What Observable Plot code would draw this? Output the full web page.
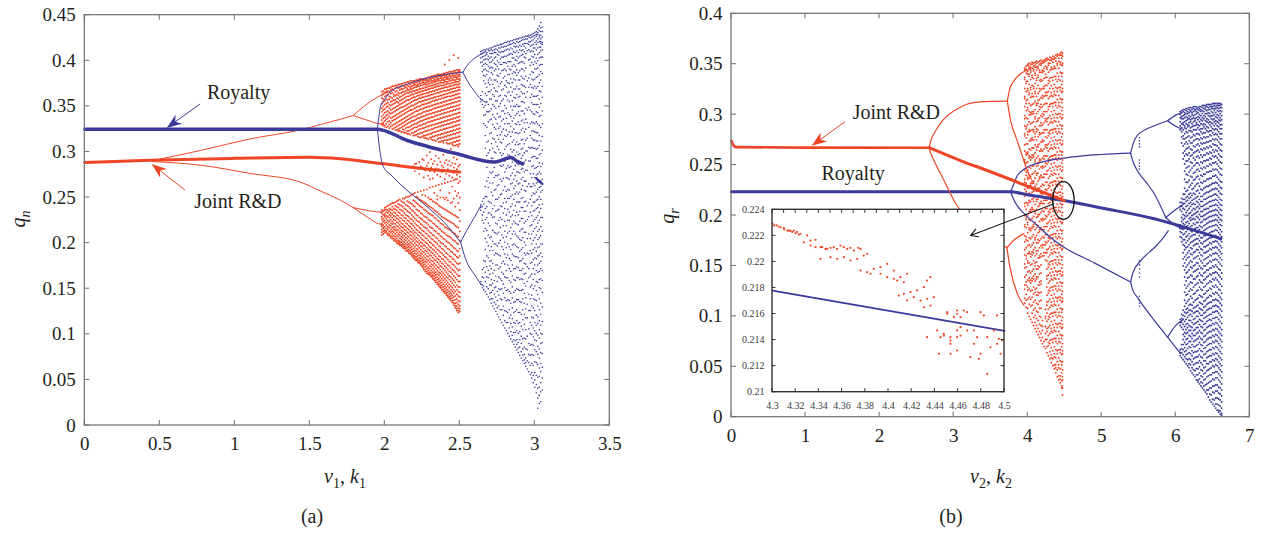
<!DOCTYPE html>
<html><head><meta charset="utf-8">
<script src="https://cdn.jsdelivr.net/npm/d3@7"></script>
<script src="https://cdn.jsdelivr.net/npm/@observablehq/plot@0.6"></script>
<style>
body{margin:0;background:#fff;width:1261px;height:533px;overflow:hidden;position:relative;font-family:"Liberation Serif","DejaVu Serif",serif;color:#231f20}
.lbl{position:absolute;font-size:20px;white-space:nowrap;line-height:1;transform:translate(-50%,-50%)}
.sub{font-size:0.7em;position:relative;top:0.35em}
#a,#b{position:absolute;top:0}
svg text{font-family:"Liberation Serif","DejaVu Serif",serif}
</style></head><body>
<div id="a" style="left:0;width:640px"></div>
<div id="b" style="left:640px;width:621px"></div>
<div class="lbl" style="left:18px;top:219px;transform:translate(-50%,-50%) rotate(-90deg)"><i>q</i><span class="sub"><i>n</i></span></div>
<div class="lbl" style="left:345px;top:476px"><i>ν</i><span class="sub">1</span>, <i>k</i><span class="sub">1</span></div>
<div class="lbl" style="left:312px;top:516px">(a)</div>
<div class="lbl" style="left:667px;top:216px;transform:translate(-50%,-50%) rotate(-90deg)"><i>q</i><span class="sub"><i>r</i></span></div>
<div class="lbl" style="left:991px;top:476px"><i>ν</i><span class="sub">2</span>, <i>k</i><span class="sub">2</span></div>
<div class="lbl" style="left:951px;top:516px">(b)</div>
<script>
// ======================= DATA =======================
// ---- panel (a) ----
const xTicksA = [0, 0.5, 1, 1.5, 2, 2.5, 3, 3.5];
const yTicksA = [0, 0.05, 0.1, 0.15, 0.2, 0.25, 0.3, 0.35, 0.4, 0.45];
const redMainA = [[0,0.2885],[0.2,0.2895],[0.5,0.2912],[1.0,0.293],[1.5,0.2942],[1.705,0.2925],[1.99,0.287],[2.26,0.2815],[2.5,0.278]];
const redP2UpA = [[0.45,0.2905],[0.77,0.3016],[1.105,0.3144],[1.439,0.3243],[1.571,0.330],[1.705,0.336],[1.79,0.340]];
const redP2LoA = [[0.45,0.2895],[0.77,0.2855],[1.105,0.2764],[1.439,0.2668],[1.571,0.2572],[1.705,0.247],[1.79,0.239]];
const redP4A = [
  [[1.79,0.340],[1.86,0.350],[1.95,0.360],[2.04,0.367]],
  [[1.79,0.340],[1.88,0.335],[1.97,0.331],[2.0,0.334]],
  [[1.97,0.331],[2.0,0.327]],
  [[1.79,0.239],[1.88,0.236],[1.97,0.234],[2.0,0.238]],
  [[1.97,0.234],[2.0,0.230]],
  [[1.79,0.239],[1.88,0.229],[1.97,0.221],[2.0,0.225]],
  [[1.97,0.221],[2.0,0.214]]
];
const blueMainA = [[0,0.325],[1.95,0.325],[2.15,0.3126],[2.48,0.298],[2.73,0.289],[2.79,0.2915],[2.84,0.294],[2.88,0.290],[2.92,0.287]];
const blueBlobA = [[3.01,0.271],[3.05,0.265]];
const blueBranchesA = [
  [[1.95,0.325],[1.96,0.338],[1.97,0.349],[2.0,0.358],[2.04,0.366],[2.15,0.3745],[2.26,0.380],[2.4,0.385],[2.52,0.3875]],
  [[2.52,0.3875],[2.56,0.397],[2.6,0.403],[2.66,0.409]],
  [[2.52,0.3875],[2.55,0.378],[2.6,0.366],[2.64,0.358],[2.68,0.354]],
  [[1.95,0.325],[1.96,0.311],[1.97,0.298],[1.99,0.284],[2.04,0.275],[2.12,0.262],[2.26,0.243],[2.4,0.222],[2.505,0.201]],
  [[2.505,0.201],[2.55,0.215],[2.6,0.229],[2.64,0.241]],
  [[2.505,0.201],[2.54,0.182],[2.6,0.165],[2.64,0.155]]
];
// chaotic scatter, read column by column: [x, "q values in thousandths"]
const redChaosA = [
[1.98,"366 362 359 353 348 344 339 335 331 209 212 215 219 221 226 229 233 236"],
[1.99,"367 364 358 355 350 346 341 337 332 330 210 213 217 220 224 227 231 235"],
[2.00,"369 365 361 356 352 347 343 338 334 329 212 214 218 222 225 229 232 236 239"],
[2.01,"369 366 362 358 353 349 344 340 336 331 327 211 213 216 220 223 227 230 234 237 240"],
[2.02,"370 367 363 357 354 350 345 341 337 333 328 209 211 215 218 222 225 229 233 236 241"],
[2.03,"370 366 361 358 352 348 343 339 334 330 326 208 210 213 217 220 224 228 231 235 238 242"],
[2.04,"371 368 364 360 355 351 346 342 337 332 328 206 208 212 215 219 222 226 230 233 237 243"],
[2.05,"372 369 365 359 356 352 347 343 338 334 329 325 205 207 210 213 217 221 224 228 232 236 240 244"],
[2.06,"372 368 363 361 357 353 348 344 339 335 330 326 203 205 208 212 215 218 222 226 230 234 238 244"],
[2.07,"373 370 366 362 357 354 349 345 340 336 331 327 324 202 204 207 210 214 217 221 225 229 233 237 241 245"],
[2.08,"373 371 367 363 359 355 350 346 341 337 332 328 324 200 202 205 208 212 215 219 223 227 231 236 240 246"],
[2.09,"374 370 365 362 358 354 351 347 342 338 333 329 325 323 199 201 203 207 210 214 218 222 226 230 234 239 243 247"],
[2.10,"374 371 368 364 360 356 352 348 343 339 334 330 326 323 198 200 202 205 209 212 216 220 224 228 233 237 242 248"],
[2.11,"375 372 369 365 361 357 353 349 344 340 335 331 327 322 197 198 201 204 207 211 214 218 222 227 231 236 241 246"],
[2.12,"375 373 369 366 362 358 354 349 345 341 336 332 328 325 322 195 197 199 202 206 209 213 217 221 225 230 235 240 245 249"],
[2.13,"376 372 370 366 363 359 355 350 346 342 337 333 329 324 321 194 196 198 201 204 208 211 215 219 224 228 233 238 244 249"],
[2.14,"376 374 371 367 364 360 356 351 347 343 338 334 330 326 321 192 194 196 199 203 206 210 214 218 222 227 231 237 242 250"],
[2.15,"377 373 370 368 365 361 357 352 348 344 339 335 331 327 323 320 191 192 195 198 201 205 208 212 216 221 225 230 235 241 246 251"],
[2.16,"377 375 372 368 365 361 357 353 349 345 340 336 332 327 323 320 189 191 193 196 199 203 207 211 215 219 224 229 234 240 245 251"],
[2.17,"378 374 371 369 366 362 358 354 350 346 341 337 333 328 324 319 188 189 192 195 198 201 205 209 213 218 222 227 233 238 244 252"],
[2.18,"378 376 372 369 366 363 359 355 351 346 342 338 334 329 325 321 186 188 190 193 196 200 204 208 212 216 221 226 231 236 243 253"],
[2.19,"378 375 373 370 367 363 360 356 351 347 343 339 334 330 326 321 318 184 186 188 191 194 198 202 206 210 214 219 224 229 235 241 247 254 284"],
[2.20,"378 376 374 371 367 364 360 357 352 348 344 339 335 331 327 322 318 182 184 186 189 192 196 200 204 208 212 217 222 227 233 240 246 255 279 287"],
[2.21,"379 376 373 371 368 365 361 357 353 349 345 340 336 331 327 323 319 181 182 185 188 191 194 198 202 206 211 215 220 225 231 237 244 251 287"],
[2.22,"379 377 374 372 368 365 362 358 354 350 345 341 337 332 328 324 320 317 179 181 183 186 189 193 197 201 205 209 214 219 224 230 236 243 250 256 282"],
[2.23,"380 377 375 372 369 366 362 359 355 350 346 342 337 333 329 325 320 316 178 179 181 184 187 191 195 199 203 208 212 217 223 228 235 241 248 276 289"],
[2.24,"380 378 375 373 369 366 363 359 355 351 347 342 338 334 329 325 321 316 176 177 180 183 186 189 193 197 201 206 211 216 221 227 233 240 247 257 284"],
[2.25,"380 378 376 373 370 367 363 360 356 352 347 343 339 334 330 326 321 317 174 175 178 181 184 188 191 196 200 204 209 214 220 226 232 239 246 253 283 292"],
[2.26,"380 378 376 374 370 367 364 360 356 352 348 344 339 335 331 326 322 318 316 171 173 176 179 182 186 190 194 198 203 208 213 218 224 230 237 245 258 272 291"],
[2.27,"381 379 376 374 371 368 364 361 357 353 349 344 340 336 331 327 323 318 315 169 171 174 177 180 184 188 192 197 201 206 211 217 223 229 236 244 252 280"],
[2.28,"381 379 377 374 371 368 365 361 357 353 349 345 341 336 332 328 323 319 315 167 169 172 175 179 182 186 191 195 200 205 210 216 222 228 235 243 259 285 296"],
[2.29,"382 379 377 375 372 369 365 362 358 354 350 345 341 337 333 328 324 319 314 166 167 170 173 177 181 185 189 193 198 203 208 214 220 226 233 241 250 274 288"],
[2.30,"382 380 378 375 372 369 366 362 358 354 350 346 342 337 333 329 324 320 316 165 166 168 172 175 179 183 187 192 196 201 207 212 218 225 232 240 248 261 279 300 270"],
[2.31,"383 380 378 376 373 370 366 363 359 355 351 346 342 338 334 329 325 320 316 314 163 164 167 170 174 177 181 186 190 195 200 205 211 217 224 231 239 248 283 292"],
[2.32,"383 381 378 376 373 370 367 363 359 356 351 347 343 338 334 330 325 321 317 313 161 163 165 168 172 176 180 184 189 193 198 204 209 216 222 230 238 246 262 271 287 305"],
[2.33,"384 381 379 377 374 371 367 364 360 356 352 348 343 339 335 330 326 322 317 313 159 161 164 167 170 174 178 182 187 192 197 202 208 214 221 228 236 245 255 278 290"],
[2.34,"384 382 379 377 374 371 368 364 360 357 352 348 344 340 335 331 327 322 318 312 157 159 162 165 168 172 176 181 185 190 195 201 206 213 219 227 235 244 263 282 296"],
[2.35,"385 382 380 378 375 372 368 365 361 357 353 349 344 340 336 331 327 323 318 314 155 157 160 163 166 170 174 179 183 188 193 199 205 211 218 225 234 243 252 275 286 248"],
[2.36,"385 383 380 378 375 372 369 365 361 358 353 349 345 341 336 332 328 323 319 315 311 153 155 158 161 165 168 173 177 182 186 192 197 203 210 216 224 232 241 264 281 293"],
[2.37,"385 383 381 378 376 373 369 366 362 358 354 350 345 341 337 332 328 324 319 315 311 151 153 156 159 163 167 171 175 180 185 190 196 201 208 215 222 231 240 250 258 273 289 302"],
[2.38,"385 383 381 379 376 373 370 366 362 359 354 350 346 342 337 333 329 324 320 316 312 149 151 154 157 161 165 169 174 178 183 189 194 200 207 213 221 229 239 265 278 285"],
[2.39,"386 384 381 379 376 373 370 367 363 359 355 351 346 342 338 333 329 325 320 316 312 310 147 149 152 155 159 163 167 172 177 182 187 193 199 205 212 220 228 238 250 283 297"],
[2.40,"386 384 382 379 377 374 371 367 363 360 355 351 347 343 338 334 330 325 321 317 313 396 145 147 150 153 157 161 165 170 175 180 185 191 197 204 211 218 227 237 248 266 270 288"],
[2.41,"387 384 382 380 377 374 371 367 364 360 356 352 347 343 339 334 330 326 321 317 313 310 143 145 148 151 155 159 163 168 173 178 184 189 196 202 209 217 226 236 250 276 291"],
[2.42,"387 385 382 380 377 375 371 368 364 361 356 352 348 344 339 335 331 326 322 318 313 309 141 143 146 149 153 157 162 166 171 176 182 188 194 201 208 216 225 235 247 267 281 286 299"],
[2.43,"388 385 383 380 378 375 372 368 365 361 357 353 348 344 340 335 331 327 322 318 314 309 401 139 141 144 147 151 155 160 164 169 175 180 186 193 200 207 215 224 234 255 274 290"],
[2.44,"388 386 383 381 378 375 372 369 365 361 357 353 349 345 340 336 332 327 323 319 314 310 137 139 142 145 149 153 158 163 168 173 179 185 191 198 206 214 223 233 244 268 279 285 303"],
[2.45,"388 386 384 381 379 376 373 369 366 362 358 354 349 345 341 336 332 328 323 319 315 310 308 135 137 140 143 147 151 156 161 166 171 177 183 190 197 204 212 222 232 245 262 272 288"],
[2.46,"389 386 384 382 379 376 373 370 366 362 358 354 350 346 341 337 333 328 324 320 315 311 307 406 132 134 137 141 145 149 154 159 164 170 176 182 188 195 203 211 221 231 249 269 277 283 294"],
[2.47,"389 387 384 382 379 377 374 370 367 363 359 355 350 346 342 337 333 329 324 320 316 311 307 129 131 134 138 142 147 152 157 162 168 174 180 187 194 202 210 219 230 240 257 270 287"],
[2.48,"390 387 385 382 380 377 374 371 367 363 359 355 351 347 342 338 334 329 325 321 316 312 308 126 128 131 135 139 144 149 154 160 166 172 178 185 192 200 208 218 229 252 270 275 281 292"],
[2.49,"390 388 385 383 380 377 374 371 368 364 360 356 351 347 343 338 334 330 325 321 317 312 308 306 403 124 126 129 133 137 142 147 152 158 164 170 177 184 191 199 207 217 228 244 266 278 284 255"],
[2.50,"390 388 385 383 380 378 375 371 368 364 360 356 352 348 343 339 335 330 326 322 317 313 309 125 128 131 136 141 146 152 158 164 171 178 186 194 203 213 224 236 250 268 273 286"]
];
const blueChaosA = [
[2.64,"410 407 403 398 362 358 355 242 239 236 158 155"],
[2.65,"411 408 404 399 394 388 366 357 352 246 240 231 225 171 163 154 151"],
[2.66,"412 409 405 401 396 390 384 378 349 340 331 249 243 234 222 213 181 173 162 153 149"],
[2.67,"412 410 406 402 397 391 383 375 364 351 341 329 318 304 262 251 238 226 216 205 193 180 168 158 147"],
[2.68,"413 409 407 402 396 389 385 371 362 355 344 327 311 296 283 268 251 240 228 214 201 186 174 163 152 144"],
[2.69,"413 411 405 401 394 388 379 376 366 352 344 333 312 299 289 272 261 246 233 222 209 197 184 170 162 150 141"],
[2.70,"414 411 408 403 398 392 381 374 366 358 345 335 320 302 289 278 266 245 233 219 206 192 180 175 166 154 145 138"],
[2.71,"414 412 408 404 399 393 387 379 368 358 347 336 321 309 293 277 256 244 231 207 196 181 172 160 154 146 139 134"],
[2.72,"415 411 408 401 392 385 374 363 352 341 330 315 304 293 278 266 252 238 228 214 202 192 178 167 156 148 139 131"],
[2.73,"416 412 409 403 397 389 379 370 361 350 338 327 314 300 283 272 258 241 229 212 199 187 170 159 151 144 135 128"],
[2.74,"416 413 409 404 396 391 379 367 356 348 336 325 311 299 289 274 259 248 235 222 211 199 189 176 164 152 141 133 125"],
[2.75,"417 412 407 400 394 384 377 366 356 342 331 318 306 290 274 263 248 236 221 210 197 188 176 158 147 137 129 122"],
[2.76,"417 414 410 406 398 391 383 372 361 350 338 326 314 303 289 275 264 250 237 225 212 200 187 172 163 150 143 131 119"],
[2.77,"418 414 409 402 396 386 375 362 353 339 328 319 311 299 285 270 253 241 228 217 203 186 174 161 149 139 127 116"],
[2.78,"418 415 410 404 396 389 377 368 356 345 334 322 310 296 284 268 254 240 226 209 196 178 168 159 150 138 127 113"],
[2.79,"419 415 410 404 398 390 381 369 358 345 336 325 314 298 286 271 258 244 233 219 206 193 180 166 155 145 131 121 110"],
[2.80,"420 416 411 405 398 391 383 373 362 351 342 331 318 303 290 278 262 249 238 224 213 201 188 177 163 151 140 126 115 107"],
[2.81,"420 416 412 405 397 389 378 371 361 348 337 324 317 306 294 282 272 257 245 231 219 207 195 184 170 162 148 137 125 113 104"],
[2.82,"421 417 413 406 399 394 385 376 365 357 343 331 319 308 297 285 271 259 249 237 225 211 199 187 176 162 149 138 124 113 101"],
[2.83,"421 418 412 407 399 391 385 375 366 355 341 331 322 309 296 283 270 258 249 234 225 213 196 183 172 159 147 137 127 118 107 98"],
[2.84,"422 418 414 408 399 390 380 371 362 350 339 328 317 303 295 284 274 265 251 240 229 217 205 193 181 169 157 145 134 121 112 103 95"],
[2.85,"422 419 413 407 403 394 386 376 366 356 346 334 322 311 300 289 277 266 253 243 231 221 210 198 188 176 164 152 140 129 117 108 99 92"],
[2.86,"423 420 416 410 403 396 388 380 369 360 350 337 325 313 302 292 281 270 260 248 236 224 213 199 186 172 160 146 135 124 113 102 94 89"],
[2.87,"423 419 415 409 401 394 387 379 369 359 350 340 331 321 308 296 285 274 263 254 241 230 222 210 198 185 172 159 148 136 125 112 102 93 86"],
[2.88,"424 421 416 411 405 400 390 384 372 363 352 342 330 321 311 300 288 278 268 256 245 234 221 208 196 185 174 162 150 138 127 115 104 94 89 83"],
[2.89,"424 420 415 409 403 397 387 379 369 360 350 344 333 320 308 297 286 278 265 254 245 231 220 206 195 184 173 162 149 138 124 112 101 91 85 80"],
[2.90,"425 421 417 412 405 398 389 379 369 361 350 340 330 321 309 298 287 277 266 256 245 235 224 213 204 191 180 170 160 148 136 124 113 103 94 86 77"],
[2.91,"425 422 416 411 406 399 391 383 374 366 355 345 334 324 313 303 293 281 270 259 249 239 227 215 203 193 181 170 161 148 135 122 109 98 90 81 74"],
[2.92,"426 423 418 412 407 399 391 381 373 364 355 345 335 326 314 304 296 282 272 263 250 239 227 216 206 195 183 172 160 149 139 127 116 105 95 84 77 71"],
[2.93,"426 423 419 416 410 404 397 389 380 372 364 354 342 332 322 309 299 289 278 268 258 245 235 222 212 201 189 178 166 156 145 134 122 111 96 86 78 72 68"],
[2.94,"427 424 419 414 408 403 392 383 371 360 348 336 325 313 301 291 280 268 257 246 235 224 212 198 187 177 167 153 140 128 118 105 95 84 74 69 65"],
[2.95,"427 424 419 411 378 366 346 332 315 301 280 262 241 226 205 189 174 158 133 118 98 83 71 62"],
[2.96,"428 426 421 418 412 401 381 371 349 327 305 290 265 244 229 210 188 172 162 144 126 106 90 78 69 59"],
[2.97,"428 425 421 416 410 402 395 385 374 360 346 331 318 304 290 276 262 248 234 219 205 192 178 164 152 139 126 113 101 88 77 66 56"],
[2.98,"429 426 422 417 411 405 398 388 380 371 363 354 344 333 323 315 305 294 284 272 262 252 241 230 220 210 199 189 179 166 154 143 131 119 110 100 89 78 68 58 52"],
[2.99,"430 427 423 418 414 410 404 396 387 379 370 361 352 342 332 323 313 304 295 285 276 265 255 245 235 224 213 203 193 182 172 160 150 139 129 118 107 97 88 77 66 55 47"],
[3.00,"431 428 425 420 414 407 399 391 380 372 361 352 341 331 322 313 304 295 282 272 263 254 245 236 226 216 206 195 184 176 166 153 138 126 113 104 94 83 70 58 50 42"],
[3.01,"432 429 427 422 418 412 403 397 391 382 370 361 352 344 333 321 312 303 293 283 275 266 256 247 238 228 218 209 199 191 183 170 158 148 137 121 110 101 93 81 69 55 45 36"],
[3.02,"435 431 429 424 420 414 407 400 392 383 372 362 352 343 331 321 312 304 293 284 276 267 259 248 239 230 222 213 204 195 186 176 168 157 144 131 119 112 99 87 78 67 53 41 30 19"],
[3.03,"438 433 428 426 421 415 409 403 395 385 376 367 358 349 339 329 318 307 297 288 278 267 261 251 242 234 225 215 206 196 187 178 169 160 151 139 127 115 105 96 84 74 63 54 42 33 24"],
[3.04,"442 436 432 428 424 421 419 415 411 404 396 388 379 366 353 340 327 312 298 284 276 268 262 256 248 238 228 218 208 199 189 180 172 161 150 134 122 110 101 90 80 68 59 47 37 26"],
[3.05,"437 432 426 420 418 412 404 396 386 372 360 345 331 317 302 287 270 258 243 228 213 199 185 170 159 146 130 114 100 91 79 64 52 39"]
];
const annotA = [{x:1.025,y:0.3646,t:"Royalty"},{x:1.021,y:0.2461,t:"Joint R&D"}];
const arrowRoyaltyA = [0.771,0.352,0.549,0.3258];
const arrowJointA = [0.671,0.2577,0.449,0.2862];

// ---- panel (b) ----
const xTicksB = [0, 1, 2, 3, 4, 5, 6, 7];
const yTicksB = [0, 0.05, 0.1, 0.15, 0.2, 0.25, 0.3, 0.35, 0.4];
const redMainB = [[0,0.274],[0.02,0.2705],[0.06,0.2678],[1,0.2673],[2.67,0.2672]];
const redThickB = [[2.67,0.2672],[3.09,0.2545],[3.455,0.2446],[4.0,0.229],[4.49,0.2148]];
const redBranchesB = [
  [[2.67,0.2672],[2.69,0.274],[2.734,0.281],[2.85,0.294],[3.09,0.3074],[3.23,0.3114],[3.5,0.3132],[3.725,0.3134]],
  [[3.725,0.3134],[3.76,0.326],[3.82,0.334],[3.905,0.3405],[4.04,0.3455]],
  [[3.725,0.3134],[3.77,0.294],[3.84,0.278],[3.905,0.264],[3.995,0.2446],[4.05,0.236]],
  [[2.67,0.2672],[2.69,0.262],[2.734,0.2545],[2.87,0.2347],[3.03,0.2116],[3.35,0.188],[3.72,0.168]],
  [[3.72,0.168],[3.76,0.149],[3.86,0.1225],[3.95,0.111]],
  [[3.72,0.168],[3.82,0.176],[3.95,0.182]]
];
const blueMainB = [[0,0.2235],[3.77,0.2235],[4.0,0.2205],[4.49,0.2149],[5.0,0.2075],[5.71,0.1967],[6.2,0.1865],[6.61,0.177]];
const blueBranchesB = [
  [[3.77,0.2235],[3.8,0.229],[3.86,0.2397],[3.95,0.2458],[4.04,0.2496],[4.58,0.2578],[5.0,0.2605],[5.39,0.2618]],
  [[3.77,0.2235],[3.8,0.2175],[3.86,0.2095],[3.905,0.2055],[4.1,0.192],[4.355,0.1755],[4.49,0.1686],[4.9,0.153],[5.39,0.134]],
  [[5.39,0.2618],[5.42,0.27],[5.48,0.2793],[5.71,0.289],[5.89,0.294]],
  [[5.39,0.2618],[5.42,0.254],[5.48,0.2446],[5.6,0.233],[5.71,0.2215],[5.865,0.198]],
  [[5.39,0.134],[5.42,0.143],[5.53,0.1554],[5.71,0.168],[5.80,0.175],[5.9,0.185]],
  [[5.39,0.134],[5.42,0.126],[5.48,0.119],[5.71,0.0959],[5.89,0.0793]],
  [[5.89,0.294],[6.0,0.2995],[6.08,0.302]],
  [[5.89,0.294],[6.0,0.2885],[6.08,0.286]],
  [[5.865,0.198],[6.0,0.206],[6.1,0.211]],
  [[5.865,0.198],[6.0,0.19],[6.1,0.186]],
  [[5.89,0.0793],[6.0,0.091],[6.1,0.097]],
  [[5.89,0.0793],[6.0,0.069],[6.07,0.063]]
];
const blueDashesB = [[5.51,0.246],[5.51,0.249],[5.51,0.252],[5.51,0.255],[5.51,0.268],[5.51,0.271],[5.51,0.274],[5.51,0.277],
  [5.51,0.110],[5.51,0.113],[5.51,0.116],[5.51,0.120],[5.51,0.139],[5.51,0.143],[5.51,0.147],[5.51,0.151],[5.51,0.155]];
const redChaosB = [
[3.96,"346 344 337 335 326 318 316 308 299 296 289 281 279 270 264 255 253 245 236 233 226 219 212 209 200 191 189 180 174 166 161 152 148 139 131 127 118 113"],
[3.98,"348 345 341 333 331 323 314 311 304 297 288 286 277 271 262 260 252 243 240 232 224 222 213 206 198 196 188 179 176 168 160 157 149 141 134 131 122 116 109"],
[4.00,"350 349 343 340 333 326 324 315 307 305 296 290 283 280 271 263 261 253 245 238 236 227 220 212 210 201 193 191 183 175 170 162 155 153 144 136 129 126 117 108 103"],
[4.02,"351 348 346 340 338 330 322 320 311 303 300 293 285 283 274 266 259 257 248 240 237 229 222 215 213 204 196 188 186 178 171 164 162 153 145 138 135 127 119 112 100"],
[4.04,"350 347 344 342 335 327 325 317 309 302 300 291 284 276 274 265 258 255 247 239 232 230 221 214 206 204 195 187 185 177 169 162 159 151 143 136 133 125 117 110 97"],
[4.06,"352 350 346 339 337 329 321 318 310 303 301 292 285 277 275 267 260 257 249 241 234 232 223 216 208 206 197 189 187 179 171 164 161 152 145 138 135 126 119 111 103 94"],
[4.08,"351 348 345 343 336 328 326 318 311 303 301 293 285 283 275 267 260 258 249 242 234 232 224 217 214 206 199 191 189 181 173 166 163 155 147 140 137 129 122 114 106 99 91"],
[4.10,"352 349 347 341 339 331 323 321 313 305 298 296 288 281 278 270 262 255 253 244 237 229 227 219 211 204 202 193 186 178 176 168 160 153 150 142 135 127 124 116 108 101 94 88"],
[4.12,"353 351 347 344 336 334 326 318 311 309 301 293 286 283 275 268 265 257 249 242 240 231 224 216 214 206 198 191 188 180 173 165 162 154 147 139 137 128 121 113 105 98 91 85"],
[4.14,"352 348 346 339 337 329 321 314 311 303 296 294 285 278 270 268 259 252 250 242 234 227 225 216 209 201 199 190 183 176 173 165 158 150 147 139 131 124 121 112 104 96 88 82"],
[4.16,"353 350 344 342 334 326 323 315 308 305 297 289 282 280 271 264 256 254 246 238 236 227 220 212 210 201 194 186 184 175 168 160 158 149 142 134 131 123 115 108 100 92 85 79"],
[4.18,"354 351 349 342 335 333 325 317 310 307 299 292 289 281 273 266 264 255 248 240 238 229 222 214 212 203 196 188 186 177 170 162 159 151 143 135 132 124 116 108 99 91 83 76"],
[4.20,"353 351 344 342 334 326 319 316 308 301 298 290 282 275 273 264 257 249 247 238 231 223 221 212 205 197 195 186 179 171 168 160 96 90 86 79 73"],
[4.22,"354 352 346 343 336 328 326 318 310 303 300 292 285 282 274 266 259 256 248 241 238 230 222 215 212 204 196 189 186 178 171 163 160 75 70"],
[4.24,"355 353 348 340 337 329 322 319 311 303 296 294 285 278 270 268 259 252 249 241 233 226 223 215 207 200 197 189 181 174 171 163 156 107 100 98 90 83 77 68"],
[4.26,"356 354 347 345 337 329 322 319 311 303 296 293 285 277 270 267 259 251 244 241 233 225 218 215 207 199 192 189 181 173 166 163 155 147 140 137 129 121 114 111 103 95 88 85 77 70 64"],
[4.28,"355 351 349 342 334 331 323 316 308 305 297 290 282 279 271 264 256 253 245 237 230 227 219 212 204 201 193 185 178 175 167 159 152 149 141 133 126 123 115 107 100 97 89 81 74 71 61"],
[4.30,"357 354 351 344 336 333 326 318 310 308 299 292 284 281 273 266 258 255 247 239 232 229 221 213 206 203 195 187 180 177 169 161 154 151 143 135 128 125 117 109 102 99 91 83 76 73 65 58"],
[4.32,"356 354 347 345 337 329 322 319 311 303 296 293 285 277 270 267 259 251 244 241 233 225 218 215 207 199 192 189 181 173 166 163 155 147 140 137 129 121 114 111 103 95 88 85 77 69 62 59 54"],
[4.34,"358 355 352 345 337 334 326 318 311 308 300 292 285 282 274 266 259 256 248 240 233 230 222 214 207 204 196 188 181 178 170 162 155 152 144 136 129 126 118 110 103 100 92 84 77 74 66 58 51"],
[4.36,"357 355 348 346 338 330 323 320 312 304 297 294 286 278 271 268 260 252 245 242 234 226 219 216 208 200 193 190 182 174 167 164 156 148 141 138 130 122 115 112 104 96 89 86 78 70 63 60 52 48"],
[4.38,"359 356 353 346 338 335 327 319 312 309 301 293 286 283 275 267 260 257 249 241 234 231 223 215 208 205 197 189 182 179 171 163 156 153 145 137 130 127 119 111 104 101 93 85 78 75 67 59 52 49 44"],
[4.40,"360 358 351 349 341 333 326 323 315 307 300 297 289 281 274 271 263 255 248 245 237 229 222 219 211 203 196 193 185 177 170 167 159 151 144 141 133 125 118 115 107 99 92 89 81 73 66 63 55 47 40"],
[4.42,"359 356 353 346 338 335 327 319 312 309 301 293 286 283 275 267 260 257 249 241 234 231 223 215 208 205 197 189 182 179 171 163 156 153 145 137 130 127 119 111 104 101 93 85 78 75 67 59 52 49 41 37"],
[4.44,"361 359 352 350 342 334 327 324 316 308 301 298 290 282 275 272 264 256 249 246 238 230 223 220 212 204 197 194 186 178 171 168 160 152 145 142 134 126 119 116 108 100 93 90 82 74 67 64 56 48 41 38 34"],
[4.46,"362 359 356 349 341 338 330 322 315 312 304 296 289 286 278 270 263 260 252 244 237 234 226 218 211 208 200 192 185 182 174 166 159 156 148 140 133 130 122 114 107 104 96 88 81 78 70 62 55 52 44 36 31 29"],
[4.47,"361 358 351 349 341 333 326 323 315 307 300 297 289 281 274 271 263 255 248 245 237 229 222 219 211 203 196 193 185 177 170 167 159 151 144 141 133 125 118 115 107 99 92 89 81 73 66 63 55 47 40 37 29 22"]
];
const blueChaosB = [
[6.06,"303 300 297 293 289 285 213 209 206 191 187 184 179 97 94 91 67 64 61"],
[6.08,"304 302 298 296 291 287 283 278 272 217 213 209 204 198 194 188 183 178 174 102 98 94 89 72 68 64 59"],
[6.10,"305 303 299 296 292 290 285 279 276 269 262 256 221 216 212 207 201 196 192 187 181 176 171 163 157 150 106 101 97 92 87 82 77 72 67 62 57"],
[6.12,"305 302 300 297 293 289 287 281 276 271 264 259 251 244 236 227 221 216 212 206 200 197 191 187 182 176 170 166 159 153 146 139 131 124 116 110 104 100 95 90 84 80 74 69 65 60 55"],
[6.14,"306 304 301 298 294 291 286 283 277 273 266 261 254 247 241 233 224 218 214 209 203 199 193 189 184 179 173 168 161 156 149 143 135 128 121 113 107 103 97 92 87 83 77 72 66 62 58 53"],
[6.16,"306 303 301 297 295 290 288 282 278 271 267 260 254 248 240 233 225 219 215 210 205 200 194 190 186 180 175 169 163 158 151 144 138 130 122 115 108 104 99 93 89 84 78 73 68 63 57 51"],
[6.18,"307 305 302 299 296 292 289 284 279 274 268 262 256 249 243 235 228 221 217 212 207 202 197 192 187 182 177 171 165 159 153 146 139 132 125 117 111 106 101 96 91 86 81 75 70 64 58 53 49"],
[6.20,"307 304 303 298 295 293 287 284 277 272 266 259 253 245 239 230 222 218 213 209 203 198 195 189 185 179 173 168 162 155 149 141 134 127 120 112 106 102 96 90 86 80 75 69 63 57 52 46"],
[6.22,"307 305 302 300 296 291 288 283 278 272 265 260 252 247 238 232 226 220 215 211 205 200 196 190 184 180 174 167 161 154 148 140 133 126 118 111 105 100 94 89 83 78 72 66 61 55 49 44"],
[6.24,"308 306 303 299 297 293 289 285 280 274 269 262 257 249 242 235 227 222 216 212 207 201 197 192 186 181 175 170 163 157 150 144 137 129 122 114 108 103 97 92 86 81 75 70 64 58 52 47 42"],
[6.26,"308 305 304 300 296 294 289 285 279 275 268 263 255 250 243 236 229 221 217 211 206 202 196 191 187 181 176 171 164 158 151 145 137 131 123 116 109 104 98 93 87 81 76 70 65 59 53 46 40"],
[6.28,"308 306 303 301 297 292 290 285 281 276 270 264 258 252 245 238 231 224 218 214 208 203 199 193 188 183 177 172 166 159 153 146 139 132 125 117 110 105 100 94 89 83 77 71 65 60 54 48 42 37"],
[6.30,"307 305 302 298 295 290 287 281 276 271 265 259 252 246 239 232 225 219 213 209 204 198 193 188 183 177 172 166 160 153 147 140 133 126 118 111 105 100 95 89 84 78 72 66 60 54 48 42 37 35"],
[6.32,"308 306 304 300 297 293 289 285 280 275 269 263 257 250 244 236 229 222 216 211 207 201 196 190 186 180 175 169 163 157 150 143 136 129 121 114 108 103 97 92 86 80 74 68 62 56 50 44 38 33"],
[6.34,"308 305 303 299 295 291 286 283 277 272 266 260 253 247 240 233 226 219 214 209 204 199 193 189 183 178 173 167 161 155 148 141 134 127 120 113 107 101 96 90 84 78 72 66 60 54 47 41 35 31"],
[6.36,"309 307 304 301 297 294 290 286 281 276 271 265 258 252 246 239 232 225 219 214 209 204 199 194 188 183 178 172 166 160 153 147 140 133 126 119 112 106 101 95 89 83 77 71 65 59 52 46 40 34 29"],
[6.38,"309 306 303 299 296 291 288 282 278 272 267 260 254 248 241 234 227 221 216 210 206 200 196 190 185 180 174 169 163 156 150 143 136 129 122 115 109 103 98 92 86 80 74 68 62 56 49 43 37 31 27"],
[6.40,"309 307 305 301 298 294 290 286 282 277 272 266 260 254 247 241 234 228 222 216 211 206 201 196 191 186 180 175 169 163 157 150 144 137 130 123 116 110 104 99 93 87 81 75 69 63 56 50 44 38 32 25"],
[6.42,"310 308 304 301 296 293 288 284 278 273 268 262 255 249 243 236 229 223 217 212 207 202 197 192 187 181 176 170 164 158 152 146 139 132 125 118 112 106 100 95 89 83 77 71 65 59 53 46 40 33 27 23"],
[6.44,"310 307 305 302 299 295 292 287 283 278 273 267 261 255 249 243 236 229 223 218 213 207 203 198 193 188 182 177 171 165 159 153 146 140 133 126 119 113 107 101 96 90 84 78 72 66 60 53 47 41 34 27 20"],
[6.46,"310 308 305 301 298 293 290 284 280 274 269 263 257 251 244 237 230 224 219 214 209 204 199 194 189 183 178 173 167 161 155 148 142 135 128 121 114 108 102 97 91 85 79 73 67 61 55 48 42 35 29 23 17"],
[6.48,"310 308 306 303 299 296 292 288 284 279 274 268 262 256 250 244 237 231 225 219 214 209 204 199 194 189 184 178 172 166 160 154 148 141 134 127 120 114 108 102 96 91 85 79 73 67 61 55 49 42 36 29 22 15"],
[6.50,"311 308 306 302 299 295 291 286 282 276 271 265 259 252 246 239 232 226 220 215 210 205 200 195 190 184 179 174 168 162 156 150 143 137 130 123 116 110 104 98 93 87 81 75 69 63 57 51 44 38 31 25 18 13"],
[6.52,"311 309 306 304 300 296 293 289 285 280 275 270 263 258 252 245 239 232 226 221 215 210 205 200 195 190 185 180 174 168 162 156 149 143 136 129 122 116 110 104 98 92 86 80 74 68 62 56 50 44 37 31 24 17 11"],
[6.54,"311 308 306 302 298 294 291 286 281 276 270 265 259 253 246 240 233 227 221 216 211 206 201 196 191 186 180 175 169 163 157 151 144 138 131 124 117 111 105 99 94 88 82 76 70 64 58 52 45 39 32 26 19 13 9"],
[6.56,"311 309 307 304 300 297 293 289 285 280 275 269 264 257 251 245 238 232 226 220 215 210 205 200 195 190 185 179 174 168 162 156 149 143 136 129 123 116 110 105 99 93 87 81 75 69 63 57 51 45 39 32 26 19 13 7"],
[6.58,"311 309 306 303 299 295 292 288 283 278 273 267 261 255 249 243 236 230 224 218 213 208 203 198 193 188 183 177 172 166 160 154 147 141 134 127 121 115 109 103 97 91 85 79 73 67 61 55 49 43 37 30 24 18 12 7 5"],
[6.60,"311 309 307 304 301 297 294 290 286 281 276 271 265 259 253 247 241 234 228 222 216 211 206 201 196 191 186 181 176 170 164 158 152 146 139 132 126 119 113 107 101 95 89 83 77 71 65 59 53 47 41 35 29 23 17 11 6 3"],
[6.62,"310 307 303 299 295 290 286 281 276 270 264 258 252 246 240 233 227 221 215 210 205 200 195 190 184 179 174 168 162 156 150 143 137 130 123 117 111 105 99 93 87 81 75 69 63 57 51 45 39 33 27 21 15 9 4 2"]
];
const annotB = [{x:2.227,y:0.3025,t:"Joint R&D"},{x:1.642,y:0.2411,t:"Royalty"}];
const arrowJointB = [1.54,0.2925,1.09,0.2687];
const zoomEllipse = {x:4.49, y:0.2144};
const zoomArrow = [{x1:4.355,y1:0.2116,x2:3.23,y2:0.1802}];

// ---- inset ----
const xTicksI = [4.3,4.32,4.34,4.36,4.38,4.4,4.42,4.44,4.46,4.48,4.5];
const xMinorI = [4.31,4.33,4.35,4.37,4.39,4.41,4.43,4.45,4.47,4.49];
const yTicksI = [0.21,0.212,0.214,0.216,0.218,0.22,0.222,0.224];
const insetBlue = [[4.3,0.2178],[4.5,0.2147]];
const insetRed = [[4.300,0.22292],[4.3014,0.2228],[4.3035,0.2228],[4.3055,0.2227],[4.3069,0.22266],[4.3098,0.2226],[4.310,0.2225],[4.3127,0.22241],[4.3141,0.2224],[4.3155,0.2224],[4.3170,0.2223],[4.3184,0.22241],[4.3198,0.2222],[4.3212,0.2223],[4.3227,0.2221],[4.3241,0.22216],[4.327,0.2215],[4.3299,0.22203],[4.3328,0.22164],[4.3328,0.22126],[4.3371,0.2217],[4.3371,0.22113],[4.3414,0.22113],[4.3414,0.22024],[4.3428,0.22113],[4.3457,0.221],[4.3472,0.221],[4.35,0.22108],[4.35,0.22036],[4.3528,0.22113],[4.3557,0.221],[4.3558,0.22024],[4.3586,0.22126],[4.3615,0.22113],[4.3615,0.22036],[4.3644,0.221],[4.3672,0.22108],[4.3672,0.22011],[4.3701,0.22088],[4.373,0.22024],[4.374,0.22108],[4.3759,0.221],[4.3759,0.21934],[4.3787,0.22049],[4.3816,0.22062],[4.3816,0.21921],[4.3845,0.21909],[4.3873,0.21947],[4.3931,0.2196],[4.3931,0.21909],[4.3989,0.21985],[4.3989,0.21883],[4.4046,0.21934],[4.4046,0.2187],[4.4075,0.21857],[4.4089,0.21742],[4.4103,0.21883],[4.4132,0.21844],[4.4132,0.21755],[4.4161,0.21909],[4.4161,0.21704],[4.419,0.21768],[4.4218,0.21729],[4.4247,0.21781],[4.4276,0.21704],[4.4305,0.21806],[4.4305,0.21652],[4.4333,0.21857],[4.4333,0.21717],[4.4333,0.21422],[4.4362,0.21883],[4.4362,0.21665],[4.4391,0.21729],[4.442,0.21474],[4.4434,0.21295],[4.4448,0.21422],[4.4477,0.21435],[4.4477,0.21448],[4.4506,0.21602],[4.4506,0.21614],[4.4534,0.21397],[4.4534,0.21295],[4.4534,0.21422],[4.4534,0.21371],[4.4563,0.21576],[4.4592,0.21422],[4.4592,0.21627],[4.4592,0.21602],[4.4592,0.21474],[4.4592,0.2132],[4.4621,0.21499],[4.4621,0.21576],[4.4621,0.21435],[4.4649,0.21627],[4.4678,0.21614],[4.4678,0.21474],[4.4707,0.21269],[4.4736,0.21474],[4.4736,0.21371],[4.4764,0.21422],[4.4779,0.21256],[4.4793,0.21614],[4.4793,0.21295],[4.4822,0.21589],[4.4851,0.21422],[4.4851,0.21141],[4.4879,0.21345],[4.4908,0.21474],[4.4937,0.21589],[4.4937,0.21371],[4.4951,0.2141],[4.4966,0.21295],[4.498,0.21397]];

// ======================= DRAWING =======================
const RED = "#ee4526", BLUE = "#3b3a9a", INK = "#231f20", AXIS = "#6d6e71";
const FONT = "'Liberation Serif', 'DejaVu Serif', serif";
const fmt = v => String(+(+v).toFixed(3));
const toPts = cols => cols.flatMap(([x, s]) => s.trim().split(/\s+/).map(v => ({x, y: +v / 1000})));
const getScales = args => args.find(a => a && typeof a.x === "function" && typeof a.y === "function");
const getDims = args => args.find(a => a && typeof a.marginLeft === "number" && typeof a.width === "number");

function boxMark(xt, yt, len, color, sw, xTopExtra = []) {
  return (...args) => {
    const s = getScales(args), d = getDims(args);
    const l = d.marginLeft, r = d.width - d.marginRight, t = d.marginTop, b = d.height - d.marginBottom;
    const g = d3.create("svg:g").attr("stroke", color).attr("fill", "none").attr("stroke-width", sw);
    g.append("rect").attr("x", l).attr("y", t).attr("width", r - l).attr("height", b - t);
    let p = "";
    for (const v of xt) { const X = s.x(v); p += `M${X},${b}v${-len}M${X},${t}v${len}`; }
    for (const v of xTopExtra) { const X = s.x(v); p += `M${X},${t}v${len}`; }
    for (const v of yt) { const Y = s.y(v); p += `M${l},${Y}h${len}M${r},${Y}h${-len}`; }
    g.append("path").attr("d", p).attr("stroke-width", 1);
    return g.node();
  };
}
function fancyArrow(a, color) {
  return (...args) => {
    const s = getScales(args);
    const x1 = s.x(a[0]), y1 = s.y(a[1]), x2 = s.x(a[2]), y2 = s.y(a[3]);
    const L = Math.hypot(x2 - x1, y2 - y1), ux = (x2 - x1) / L, uy = (y2 - y1) / L, nx = -uy, ny = ux;
    const hl = 15, hw = 5.5, notch = 4.5;
    const bx = x2 - hl * ux, by = y2 - hl * uy, mx = x2 - (hl - notch) * ux, my = y2 - (hl - notch) * uy;
    const g = d3.create("svg:g");
    g.append("line").attr("x1", x1).attr("y1", y1).attr("x2", mx).attr("y2", my).attr("stroke", color).attr("stroke-width", 1);
    g.append("path").attr("d", `M${x2},${y2}L${bx + hw * nx},${by + hw * ny}L${mx},${my}L${bx - hw * nx},${by - hw * ny}Z`).attr("fill", color);
    return g.node();
  };
}
function ellipseMark(c, rx, ry) {
  return (...args) => {
    const s = getScales(args);
    return d3.create("svg:ellipse").attr("cx", s.x(c.x)).attr("cy", s.y(c.y)).attr("rx", rx).attr("ry", ry)
      .attr("fill", "none").attr("stroke", "#111").attr("stroke-width", 1.3).node();
  };
}
const lineOf = (arr, stroke, w) => Plot.line(arr, {x: d => d[0], y: d => d[1], stroke, strokeWidth: w, curve: "monotone-x"});
const fixFont = svg => { svg.setAttribute("font-family", FONT); svg.style.fontFamily = FONT; return svg; };

// ---- panel (a) ----
const plotA = Plot.plot({
  width: 640, height: 533,
  marginLeft: 84.3, marginRight: 30.7, marginTop: 14.7, marginBottom: 108,
  style: `font-family:${FONT};font-size:19px;color:${INK};background:white`,
  x: {domain: [0, 3.5], ticks: xTicksA, tickSize: 0, tickPadding: 11, label: null, tickFormat: fmt},
  y: {domain: [0, 0.45], ticks: yTicksA, tickSize: 0, tickPadding: 9, label: null, tickFormat: fmt},
  marks: [
    Plot.dot(toPts(redChaosA), {x: "x", y: "y", r: 0.95, fill: RED}),
    lineOf(redMainA, RED, 3),
    lineOf(redP2UpA, RED, 1),
    lineOf(redP2LoA, RED, 1),
    ...redP4A.map(b => lineOf(b, RED, 1)),
    Plot.dot(toPts(blueChaosA), {x: "x", y: "y", r: 0.8, fill: BLUE}),
    ...blueBranchesA.map(b => lineOf(b, BLUE, 1)),
    lineOf(blueMainA, BLUE, 3.5),
    lineOf(blueBlobA, BLUE, 2.5),
    Plot.text(annotA, {x: "x", y: "y", text: "t", fontSize: 20, fontFamily: FONT, fill: INK}),
    fancyArrow(arrowRoyaltyA, BLUE),
    fancyArrow(arrowJointA, RED),
    boxMark(xTicksA, yTicksA, 5, AXIS, 1.2)
  ]
});
document.getElementById("a").append(fixFont(plotA));

// ---- inset ----
const IW = 270, IH = 207.5;
const inset = Plot.plot({
  width: IW, height: IH,
  marginLeft: 35, marginRight: 3, marginTop: 6.3, marginBottom: 18.8,
  style: `font-family:${FONT};font-size:10px;color:#3a3a3a`,
  x: {domain: [4.3, 4.5], ticks: xTicksI, tickSize: 0, tickPadding: 10, label: null, tickFormat: fmt},
  y: {domain: [0.21, 0.224], ticks: yTicksI, tickSize: 0, tickPadding: 8, label: null, tickFormat: fmt},
  marks: [
    Plot.frame({fill: "white", stroke: null}),
    lineOf(insetBlue, BLUE, 1.8),
    Plot.dot(insetRed, {x: d => d[0], y: d => d[1], r: 1.1, fill: RED}),
    boxMark(xTicksI, yTicksI, 3.5, "#333", 1.4, xMinorI)
  ]
});
fixFont(inset);
inset.setAttribute("x", 97);
inset.setAttribute("y", 203);
inset.style.width = IW + "px";
inset.style.height = IH + "px";
inset.style.maxWidth = "none";
inset.style.overflow = "visible";
inset.style.background = "none";

// ---- panel (b) ----
const plotB = Plot.plot({
  width: 621, height: 533,
  marginLeft: 91, marginRight: 11.7, marginTop: 13.3, marginBottom: 116.3,
  style: `font-family:${FONT};font-size:19px;color:${INK};background:white`,
  x: {domain: [0, 7], ticks: xTicksB, tickSize: 0, tickPadding: 11, label: null, tickFormat: fmt},
  y: {domain: [0, 0.4], ticks: yTicksB, tickSize: 0, tickPadding: 9, label: null, tickFormat: fmt},
  marks: [
    Plot.dot(toPts(redChaosB), {x: "x", y: "y", r: 0.95, fill: RED}),
    Plot.dot(toPts(blueChaosB), {x: "x", y: "y", r: 0.95, fill: BLUE}),
    Plot.dot(blueDashesB, {x: d => d[0], y: d => d[1], r: 0.8, fill: BLUE}),
    ...blueBranchesB.map(b => lineOf(b, BLUE, 1.2)),
    lineOf(blueMainB, BLUE, 3),
    ...redBranchesB.map(b => lineOf(b, RED, 1.2)),
    lineOf(redMainB, RED, 2.6),
    lineOf(redThickB, RED, 3),
    Plot.text(annotB, {x: "x", y: "y", text: "t", fontSize: 20, fontFamily: FONT, fill: INK}),
    fancyArrow(arrowJointB, RED),
    () => inset,
    ellipseMark(zoomEllipse, 10.7, 18.8),
    Plot.arrow(zoomArrow, {x1: "x1", y1: "y1", x2: "x2", y2: "y2", stroke: "#111", strokeWidth: 1.1, headLength: 11}),
    boxMark(xTicksB, yTicksB, 5, AXIS, 1.2)
  ]
});
document.getElementById("b").append(fixFont(plotB));
</script>
</body></html>
